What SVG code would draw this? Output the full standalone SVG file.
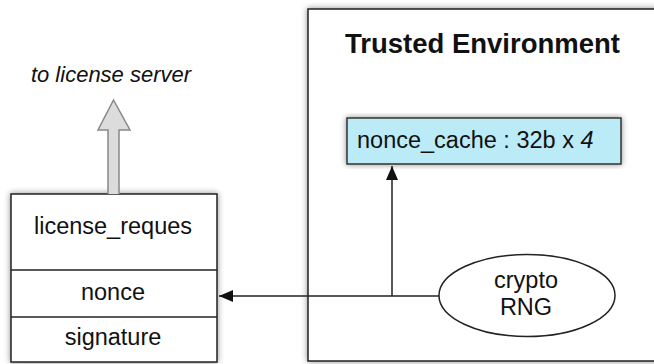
<svg xmlns="http://www.w3.org/2000/svg" width="654" height="364" viewBox="0 0 654 364">
<style>
text{font-family:"Liberation Sans",Arial,sans-serif;fill:#111}
.lbl{font-size:23.5px;text-anchor:middle}
.box{fill:#fff;stroke:#222;stroke-width:1.5}
.ln{stroke:#222;stroke-width:1.5;fill:none}
</style>
<defs>
<filter id="sh" x="-10%" y="-10%" width="120%" height="120%">
<feGaussianBlur in="SourceAlpha" stdDeviation="3"/>
<feComponentTransfer><feFuncA type="linear" slope="0.45"/></feComponentTransfer>
<feMerge><feMergeNode/><feMergeNode in="SourceGraphic"/></feMerge>
</filter>
<marker id="ah" viewBox="0 0 14 12" refX="14" refY="6" markerWidth="14" markerHeight="12" markerUnits="userSpaceOnUse" orient="auto">
<path d="M0,0 L14,6 L0,12 z" fill="#111"/>
</marker>
</defs>
<g id="trusted">
<rect x="308" y="9" width="360" height="352" class="box" filter="url(#sh)"/>
<text x="482.5" y="53" style="font-size:27.5px;font-weight:bold;text-anchor:middle">Trusted Environment</text>
</g>
<g id="nonce_cache">
<rect x="347" y="118" width="274" height="46" style="fill:#bcebf8;stroke:#333;stroke-width:1.5" filter="url(#sh)"/>
<text x="357" y="148" style="font-size:23.5px">nonce_cache : 32b x <tspan font-style="italic">4</tspan></text>
</g>
<g id="rng">
<ellipse cx="527" cy="295.5" rx="88" ry="41" class="box"/>
<text x="526" y="288" class="lbl">crypto</text>
<text x="526" y="315" class="lbl">RNG</text>
</g>
<g id="license_request">
<rect x="11" y="194" width="206" height="168" class="box" filter="url(#sh)"/>
<line x1="11" y1="270" x2="217" y2="270" class="ln"/>
<line x1="11" y1="317" x2="217" y2="317" class="ln"/>
<text x="113" y="234" class="lbl">license_reques</text>
<text x="113" y="300" class="lbl">nonce</text>
<text x="113" y="345" class="lbl">signature</text>
</g>
<g id="server_label">
<text x="111" y="82" style="font-size:22px;font-style:italic;text-anchor:middle">to license server</text>
</g>
<g id="connectors">
<path d="M108,194 L108,130 L98,130 L113.5,100 L130,130 L119,130 L119,194" style="fill:#dcdcdc;stroke:#888;stroke-width:1.5"/>
<line x1="439" y1="296" x2="219" y2="296" class="ln" marker-end="url(#ah)"/>
<line x1="392" y1="296" x2="392" y2="166" class="ln" marker-end="url(#ah)"/>
</g>
</svg>
